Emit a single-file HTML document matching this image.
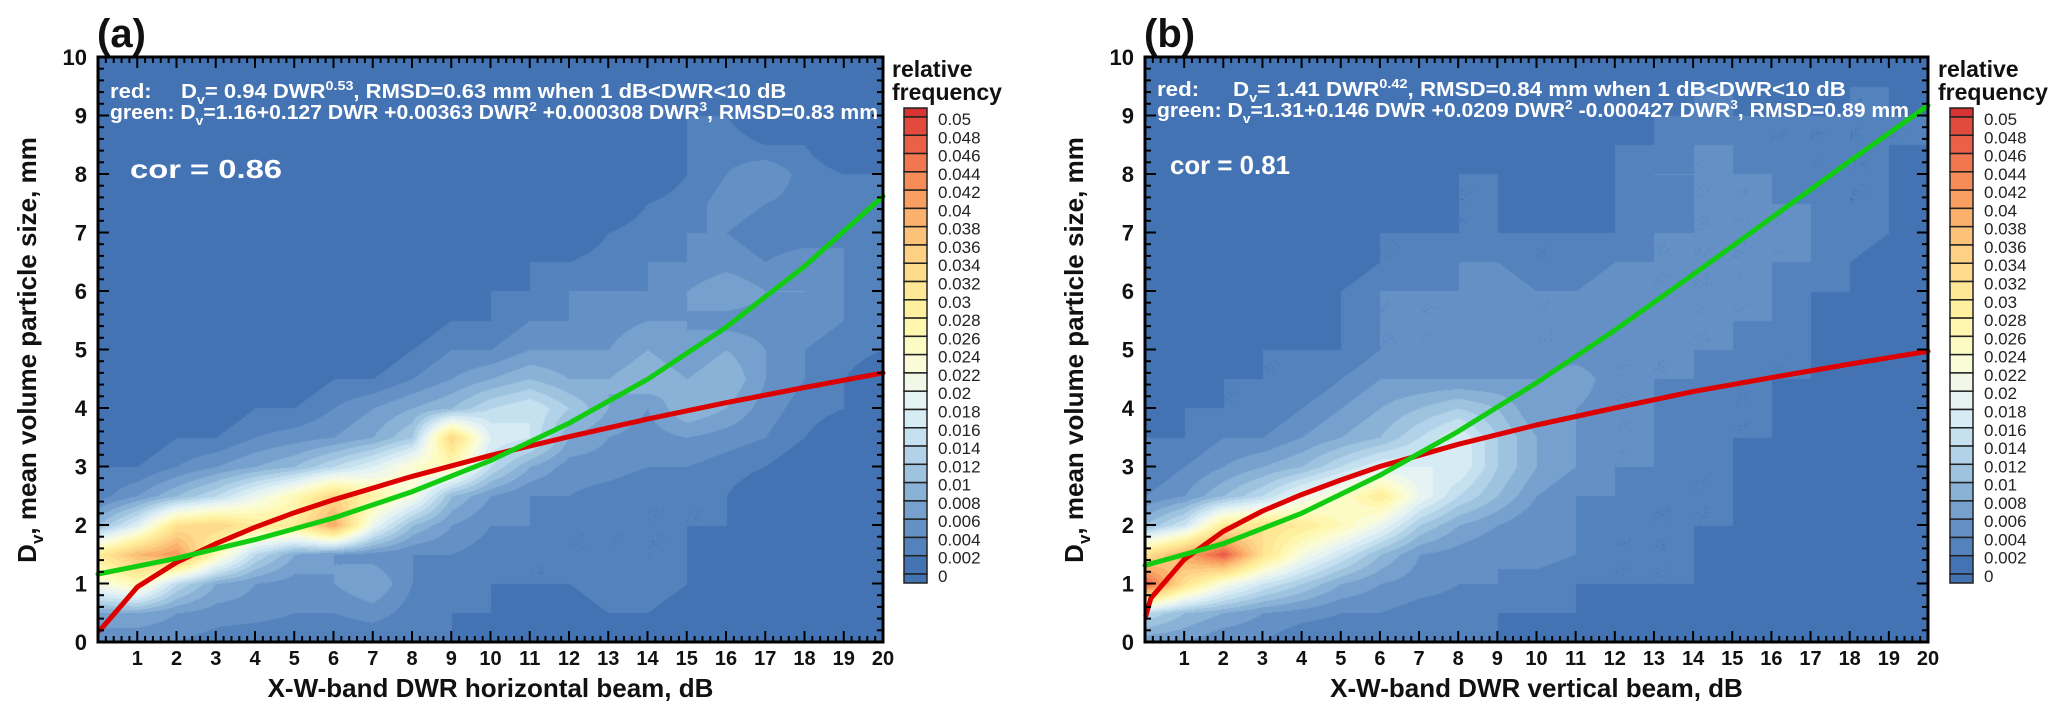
<!DOCTYPE html>
<html><head><meta charset="utf-8">
<style>
html,body{margin:0;padding:0;background:#fff;}
#root{position:relative;width:2067px;height:714px;overflow:hidden;background:#fff;font-family:"Liberation Sans",Arial,sans-serif;}
canvas{position:absolute;}
svg{position:absolute;left:0;top:0;}
</style></head>
<body>
<div id="root">
<canvas id="heatA" width="785" height="585" style="left:98px;top:57px"></canvas>
<canvas id="heatB" width="783" height="585" style="left:1145px;top:57px"></canvas>
<svg id="svg" width="2067" height="714"></svg>
</div>
<script>
// ---- data (relative frequency in units of 0.001; rows y=0..10 step 0.5, cols x=0..20 step 1)
const gridA = [
[4,4,4,3,2,2,2,2,2,2,0,0,0,0,0,0,0,0,0,0,0],
[8,8,6,5,5,4,4,5,3,2,2,0,0,2,2,0,0,0,0,0,0],
[22,26,14,8,6,5,6,8,4,3,2,2,2,4,4,2,0,0,0,0,0],
[30,38,42,26,14,8,6,5,4,4,3,2,2,2,2,2,0,0,0,0,0],
[10,18,32,34,30,30,40,20,10,6,4,4,2,2,2,2,2,0,0,0,0],
[3,6,10,14,20,26,34,28,22,10,6,4,4,3,2,2,2,0,0,0,0],
[2,2,4,6,8,10,14,18,24,26,14,8,5,5,4,4,3,2,0,0,0],
[0,0,2,2,4,5,6,8,12,34,18,16,8,6,5,6,5,4,2,0,0],
[0,0,0,0,2,2,4,6,8,10,14,16,12,8,6,10,8,5,3,2,0],
[0,0,0,0,0,0,2,2,4,6,8,10,8,8,10,8,10,6,4,2,0],
[0,0,0,0,0,0,0,0,2,4,4,6,6,6,8,6,8,6,4,3,2],
[0,0,0,0,0,0,0,0,0,2,2,4,4,5,6,6,5,5,5,4,2],
[0,0,0,0,0,0,0,0,0,0,2,2,4,4,4,6,8,6,6,4,3],
[0,0,0,0,0,0,0,0,0,0,0,2,2,3,4,4,5,4,5,4,3],
[0,0,0,0,0,0,0,0,0,0,0,0,0,2,3,4,4,3,3,4,4],
[0,0,0,0,0,0,0,0,0,0,0,0,0,0,2,3,5,4,3,3,3],
[0,0,0,0,0,0,0,0,0,0,0,0,0,0,0,2,4,6,3,2,2],
[0,0,0,0,0,0,0,0,0,0,0,0,0,0,0,2,3,2,2,0,0],
[0,0,0,0,0,0,0,0,0,0,0,0,0,0,0,2,2,0,0,0,0],
[0,0,0,0,0,0,0,0,0,0,0,0,0,0,0,0,0,0,0,0,0],
[0,0,0,0,0,0,0,0,0,0,0,0,0,0,0,0,0,0,0,0,0]];
const gridB = [
[6,6,4,4,2,2,2,2,2,2,0,0,0,0,0,0,0,0,0,0,0],
[14,10,8,6,5,4,4,3,3,2,2,2,0,0,0,0,0,0,0,0,0],
[48,32,22,16,12,8,6,5,4,4,3,2,2,2,2,0,0,0,0,0,0],
[32,40,48,32,22,16,10,6,5,4,5,4,2,2,2,0,0,0,0,0,0],
[10,16,30,32,30,26,20,12,8,6,4,4,2,2,2,2,0,0,0,0,0],
[4,6,10,14,20,24,30,20,14,10,6,4,4,2,2,2,0,0,0,0,0],
[2,4,6,8,10,14,18,18,18,12,8,6,4,4,2,2,0,0,0,0,0],
[2,2,4,4,6,8,10,14,18,12,8,6,4,4,4,2,2,0,0,0,0],
[0,2,2,2,4,6,8,10,12,10,6,6,4,4,2,2,2,0,0,0,0],
[0,0,2,2,2,4,6,6,6,6,6,8,4,4,4,2,2,2,0,0,0],
[0,0,0,2,2,2,4,4,4,4,4,4,4,4,4,4,2,2,0,0,0],
[0,0,0,0,0,2,4,4,4,6,4,4,6,6,4,4,4,2,0,0,0],
[0,0,0,0,0,2,4,4,4,6,4,4,6,4,4,4,4,2,2,0,0],
[0,0,0,0,0,0,2,2,4,4,2,2,4,4,4,4,4,4,2,0,0],
[0,0,0,0,0,0,2,2,2,2,2,2,2,4,4,4,4,4,4,2,0],
[0,0,0,0,0,0,0,0,2,2,0,0,2,2,4,4,4,4,2,2,0],
[0,0,0,0,0,0,0,0,2,2,0,0,2,4,4,4,4,2,2,2,0],
[0,0,0,0,0,0,0,0,0,0,0,0,2,2,4,4,2,2,2,2,2],
[0,0,0,0,0,0,0,0,0,0,0,0,0,2,2,2,2,2,2,2,2],
[0,0,0,0,0,0,0,0,0,0,0,0,0,0,2,2,0,0,2,2,0],
[0,0,0,0,0,0,0,0,0,0,0,0,0,0,0,0,0,0,0,0,0]];
const redAX = [0.05,1,2,3,4,5,6,8,10,12,14,16,18,20];
const redAY = [0.2,0.94,1.36,1.68,1.96,2.21,2.43,2.83,3.19,3.51,3.81,4.09,4.35,4.60];
const greenAX = [0,2,4,6,8,10,12,14,16,18,20];
const greenAY = [1.16,1.43,1.75,2.12,2.57,3.10,3.74,4.49,5.38,6.42,7.62];
const redBX = [0.02,0.15,1,2,3,4,5,6,8,10,12,14,16,18,20];
const redBY = [0.45,0.75,1.41,1.89,2.24,2.52,2.77,3.0,3.38,3.71,4.0,4.28,4.52,4.75,4.97];
const greenBX = [0,2,4,6,8,10,12,14,16,18,20];
const greenBY = [1.31,1.68,2.20,2.85,3.60,4.43,5.33,6.28,7.25,8.22,9.17];
const xTickLabels = [1,2,3,4,5,6,7,8,9,10,11,12,13,14,15,16,17,18,19,20];
const yTickLabels = [0,1,2,3,4,5,6,7,8,9,10];
const cbarLabels = ["0.05","0.048","0.046","0.044","0.042","0.04","0.038","0.036","0.034","0.032","0.03","0.028","0.026","0.024","0.022","0.02","0.018","0.016","0.014","0.012","0.01","0.008","0.006","0.004","0.002","0"];

const COLORS = ["#4473b3","#5382bd","#6590c5","#76a0cd","#8ab2d6","#9ec3df","#b1d2e8","#c5e0ef","#d7ebf4","#e6f3f3","#f2f8e8","#fafcd8","#fdfbc4","#fff6b0","#fff0a0","#fee795","#fedc8c","#fdd083","#fcc278","#fbb16b","#f99f61","#f68c58","#f27750","#eb6148","#e24a3e","#d73333"];
const NS = "http://www.w3.org/2000/svg";
const svg = document.getElementById('svg');
function mk(tag, attrs, parent){ const e=document.createElementNS(NS,tag); for(const k in attrs) e.setAttribute(k,attrs[k]); (parent||svg).appendChild(e); return e; }
function hex(c){return [parseInt(c.substr(1,2),16),parseInt(c.substr(3,2),16),parseInt(c.substr(5,2),16)];}
const RGB = COLORS.map(hex);

function drawHeat(canvas, grid){
  const w=canvas.width,h=canvas.height,ctx=canvas.getContext('2d');
  const img=ctx.createImageData(w,h);
  for(let py=0;py<h;py++){
    const Y=(h-py)/h*10/0.5; let r0=Math.min(19,Math.floor(Y)); const fy=Y-r0;
    for(let px=0;px<w;px++){
      const X=px/w*20; let c0=Math.min(19,Math.floor(X)); const fx=X-c0;
      const v=grid[r0][c0]*(1-fx)*(1-fy)+grid[r0][c0+1]*fx*(1-fy)+grid[r0+1][c0]*(1-fx)*fy+grid[r0+1][c0+1]*fx*fy;
      const lv=Math.max(0,Math.min(25,Math.floor(v/2)));
      const c=RGB[lv]; const o=(py*w+px)*4;
      img.data[o]=c[0];img.data[o+1]=c[1];img.data[o+2]=c[2];img.data[o+3]=255;
    }
  }
  ctx.putImageData(img,0,0);
}
drawHeat(document.getElementById('heatA'),gridA);
drawHeat(document.getElementById('heatB'),gridB);

function panel(p){
  const g=mk('g',{});
  
  
  const xs=v=>p.ox+v/20*p.w, ys=v=>p.oy+p.h-v/10*p.h;
  function curve(X,Y,color,name){
    const pts=X.map((x,i)=>xs(x).toFixed(1)+','+ys(Y[i]).toFixed(1)).join(' ');
    const l=mk('polyline',{points:pts,fill:'none',stroke:color,'stroke-width':5,'stroke-linejoin':'round','stroke-linecap':'round'},g);
    
    
  }
  curve(p.rx,p.ry,'#dd0000','red-fit-curve');
  curve(p.gx,p.gy,'#11cc11','green-fit-curve');
  const tk=mk('g',{stroke:'#000','stroke-width':2},g);
  
  
  for(let i=0;i<=100;i++){
    const v=i*0.2, major=(i%5===0), L=major?11:6;
    const x=xs(v);
    mk('line',{x1:x,y1:p.oy+p.h,x2:x,y2:p.oy+p.h-L},tk);
    mk('line',{x1:x,y1:p.oy,x2:x,y2:p.oy+L},tk);
  }
  for(let i=0;i<=50;i++){
    const v=i*0.2, major=(i%5===0), L=major?11:6;
    const y=ys(v);
    mk('line',{x1:p.ox,y1:y,x2:p.ox+L,y2:y},tk);
    mk('line',{x1:p.ox+p.w,y1:y,x2:p.ox+p.w-L,y2:y},tk);
  }
  const fr=mk('rect',{x:p.ox,y:p.oy,width:p.w,height:p.h,fill:'none',stroke:'#000','stroke-width':3},g);
  
  
  xTickLabels.forEach(v=>{
    const t=mk('text',{x:xs(v),y:665,'text-anchor':'middle','font-size':20,'font-weight':'bold',fill:'#111'},g);
    t.textContent=v;
    
    
  });
  yTickLabels.forEach(v=>{
    const t=mk('text',{x:p.ox-11,y:ys(v)+8,'text-anchor':'end','font-size':22,'font-weight':'bold',fill:'#111'},g);
    t.textContent=v;
    
    
  });
  const xt=mk('text',{x:p.ox+p.w/2,y:697,'text-anchor':'middle','font-size':26,'font-weight':'bold',fill:'#111'},g);
  xt.textContent=p.xtitle;
  
  
  const yt=mk('text',{x:0,y:0,'text-anchor':'middle','font-size':26,'font-weight':'bold',fill:'#111',transform:`translate(${p.ox-62},350) rotate(-90)`},g);
  yt.innerHTML='D<tspan font-size="17" dy="7">v</tspan><tspan dy="-7">, mean volume particle size, mm</tspan>';
  
  
  const pl=mk('text',{x:p.ox-1,y:47,'font-size':40,'font-weight':'bold',fill:'#111'},g);
  pl.textContent='('+p.id+')';
  
  
  const a1=mk('text',{x:p.ox+12,y:p.ry1,'font-size':20,'font-weight':'bold',fill:'#fff',textLength:p.rl,lengthAdjust:'spacingAndGlyphs'},g);
  a1.innerHTML=p.redText;
  
  
  const a2=mk('text',{x:p.ox+12,y:p.gy1,'font-size':20,'font-weight':'bold',fill:'#fff',textLength:p.gl,lengthAdjust:'spacingAndGlyphs'},g);
  a2.innerHTML=p.greenText;
  
  
  const cr=mk('text',{x:p.corx,y:p.cory,'font-size':26,'font-weight':'bold',fill:'#fff',textLength:p.corl,lengthAdjust:'spacingAndGlyphs'},g);
  cr.textContent=p.cor;
  
  
  const cb=mk('g',{},g);
  
  
  const t1=mk('text',{x:p.cbx-12,y:77,'font-size':23,'font-weight':'bold',fill:'#111'},cb);
  t1.textContent='relative';
  
  
  const t2=mk('text',{x:p.cbx-12,y:100,'font-size':23,'font-weight':'bold',fill:'#111'},cb);
  t2.textContent='frequency';
  
  
  const step=18.28, top=117;
  mk('rect',{x:p.cbx,y:108,width:23,height:9,fill:COLORS[25],stroke:'#222','stroke-width':1.5},cb);
  for(let k=0;k<25;k++){
    mk('rect',{x:p.cbx,y:top+k*step,width:23,height:step,fill:COLORS[24-k],stroke:'#222','stroke-width':1.5},cb);
  }
  mk('rect',{x:p.cbx,y:top+25*step,width:23,height:9,fill:COLORS[0],stroke:'#222','stroke-width':1.5},cb);
  cbarLabels.forEach((s,i)=>{
    const t=mk('text',{x:p.cbx+34,y:top+i*step+8,'font-size':17,fill:'#222'},cb);
    t.textContent=s;
    
    
  });
}
panel({id:'a',ox:98,oy:57,w:785,h:585,rx:redAX,ry:redAY,gx:greenAX,gy:greenAY,
  xtitle:'X-W-band DWR horizontal beam, dB',
  redText:'red:<tspan x="181">D</tspan><tspan font-size="13" dy="6">v</tspan><tspan dy="-6">= 0.94 DWR</tspan><tspan font-size="13" dy="-8">0.53</tspan><tspan dy="8">, RMSD=0.63 mm when 1 dB&lt;DWR&lt;10 dB</tspan>',
  greenText:'green: D<tspan font-size="13" dy="6">v</tspan><tspan dy="-6">=1.16+0.127 DWR +0.00363 DWR</tspan><tspan font-size="13" dy="-8">2</tspan><tspan dy="8"> +0.000308 DWR</tspan><tspan font-size="13" dy="-8">3</tspan><tspan dy="8">, RMSD=0.83 mm</tspan>',
  ry1:98,gy1:119,rl:647,gl:768,cor:'cor = 0.86',corx:130,cory:178,corl:152,cbx:904});
panel({id:'b',ox:1145,oy:57,w:783,h:585,rx:redBX,ry:redBY,gx:greenBX,gy:greenBY,
  xtitle:'X-W-band DWR vertical beam, dB',
  redText:'red:<tspan x="1233">D</tspan><tspan font-size="13" dy="6">v</tspan><tspan dy="-6">= 1.41 DWR</tspan><tspan font-size="13" dy="-8">0.42</tspan><tspan dy="8">, RMSD=0.84 mm  when 1 dB&lt;DWR&lt;10 dB</tspan>',
  greenText:'green: D<tspan font-size="13" dy="6">v</tspan><tspan dy="-6">=1.31+0.146 DWR +0.0209 DWR</tspan><tspan font-size="13" dy="-8">2</tspan><tspan dy="8"> -0.000427 DWR</tspan><tspan font-size="13" dy="-8">3</tspan><tspan dy="8">, RMSD=0.89 mm</tspan>',
  ry1:96,gy1:117,rl:655,gl:752,cor:'cor = 0.81',corx:1170,cory:174,corl:120,cbx:1950});
</script>
</body></html>
